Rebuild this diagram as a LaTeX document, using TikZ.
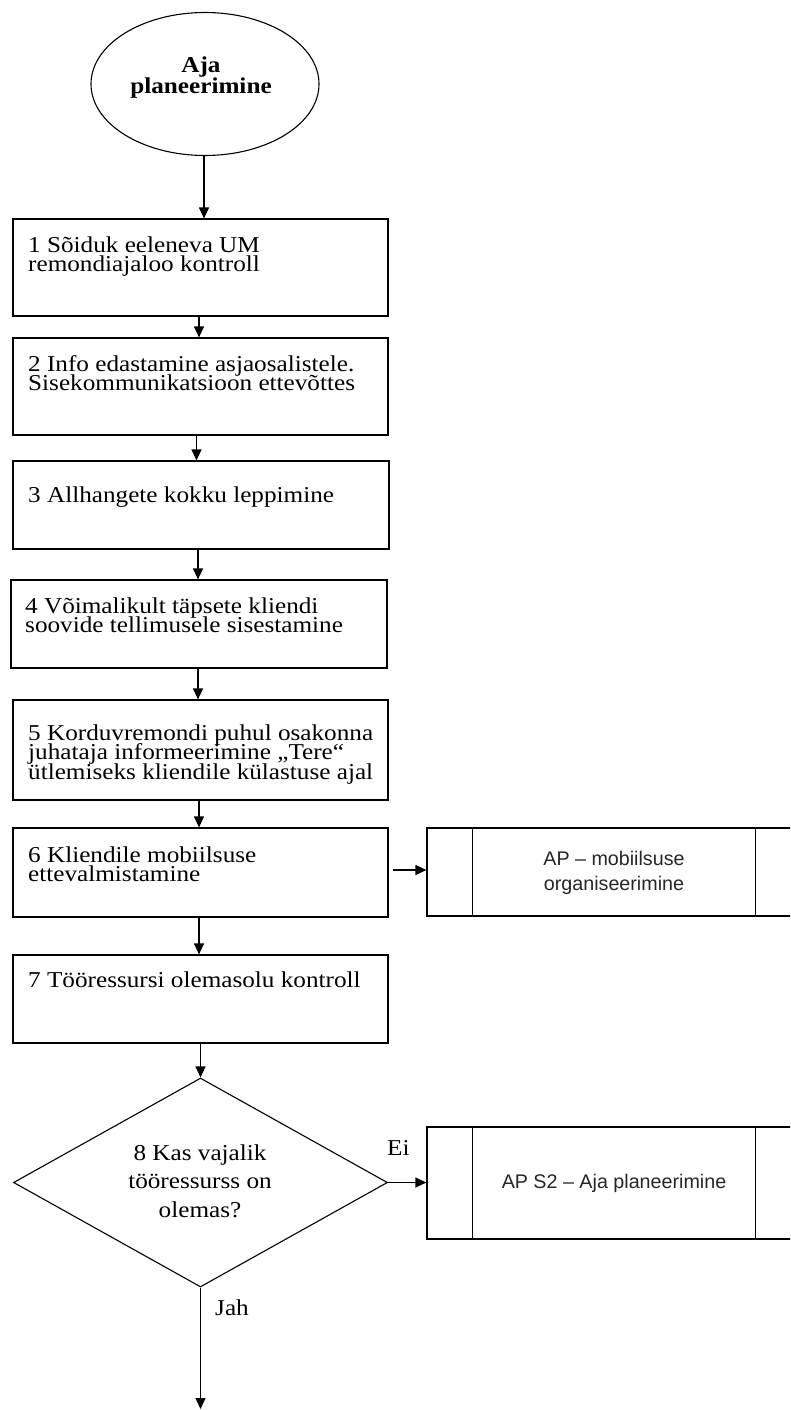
\documentclass[tikz,border=0pt]{standalone}
\usepackage{fontspec}
\setmainfont{Liberation Serif}[FakeStretch=1.11]
\newfontfamily\apfont{Liberation Sans}
\usetikzlibrary{arrows.meta,shapes.geometric,fit}
% stacked lines: the box baseline is the baseline of the first line
\newcommand\leftlines[1]{\vtop{\halign{##\hfil\cr#1\crcr}}}
\newcommand\midlines[1]{\vtop{\halign{\hfil##\hfil\cr#1\crcr}}}
\begin{document}
\begin{tikzpicture}[x=1pt,y=-1pt,
  stepbox/.style={draw, line width=1.2pt, inner sep=0pt},
  subbox/.style={draw, line width=1.2pt, inner sep=0pt},
  decision/.style={draw, diamond, line width=1.1pt, inner sep=0pt, minimum width=374pt, minimum height=209pt},
  startnode/.style={draw, ellipse, line width=1.1pt, inner sep=0pt, minimum width=228pt, minimum height=143pt},
  arr/.style={line width=1.2pt, -{Triangle[length=11pt,width=10pt]}},
  steptext/.style={inner sep=0pt, anchor=base west,
    font={\fontsize{22.7pt}{19.8pt}\selectfont\lineskiplimit=-100pt}},
  qtext/.style={inner sep=0pt, anchor=base,
    font={\fontsize{22.7pt}{28.5pt}\selectfont\lineskiplimit=-100pt}},
  titletext/.style={inner sep=0pt, anchor=base,
    font={\fontsize{22.7pt}{21pt}\selectfont\bfseries\lineskiplimit=-100pt}},
  aptext/.style={inner sep=0pt, anchor=base, text=black!85,
    font={\apfont\fontsize{19.7pt}{25pt}\selectfont\lineskiplimit=-100pt}},
  lbl/.style={inner sep=0pt, anchor=base west,
    font={\fontsize{22.7pt}{19.5pt}\selectfont}},
]
\useasboundingbox (0,0) rectangle (790,1410);
\clip (0,0) rectangle (790,1410);

% start
\node[startnode] (start) at (205,84) {};
\node[titletext] (startt) at (201,73) {\midlines{Aja\cr planeerimine}};

% process steps
\node[stepbox, fit={(13,219) (388,316)}] (b1) {};
\node[stepbox, fit={(13,338) (388,435)}] (b2) {};
\node[stepbox, fit={(13,461) (389,549)}] (b3) {};
\node[stepbox, fit={(11,580) (387,668)}] (b4) {};
\node[stepbox, fit={(13,700) (388,800)}] (b5) {};
\node[stepbox, fit={(13,828) (388,917)}] (b6) {};
\node[stepbox, fit={(13,955) (388,1043)}] (b7) {};

\node[steptext] (t1) at (28,252) {\leftlines{1 Sõiduk eeleneva UM\cr remondiajaloo kontroll}};
\node[steptext] (t2) at (28,371) {\leftlines{2 Info edastamine asjaosalistele.\cr Sisekommunikatsioon ettevõttes}};
\node[steptext] (t3) at (28,502) {3 Allhangete kokku leppimine};
\node[steptext] (t4) at (25,613) {\leftlines{4 Võimalikult täpsete kliendi\cr soovide tellimusele sisestamine}};
\node[steptext] (t5) at (28,740) {\leftlines{5 Korduvremondi puhul osakonna\cr juhataja informeerimine „Tere“\cr ütlemiseks kliendile külastuse ajal}};
\node[steptext] (t6) at (28,862) {\leftlines{6 Kliendile mobiilsuse\cr ettevalmistamine}};
\node[steptext] (t7) at (28,987) {7 Tööressursi olemasolu kontroll};

% decision
\node[decision] (d) at (200.5,1182.5) {};
\node[qtext] (dt) at (200,1160) {\midlines{8 Kas vajalik\cr tööressurss on\cr olemas?}};

% predefined sub-processes
\node[subbox, fit={(427,828) (801,916)}] (ap1) {};
\draw[line width=1.2pt] ([xshift=46pt]ap1.north west) -- ([xshift=46pt]ap1.south west);
\draw[line width=1.2pt] ([xshift=-46pt]ap1.north east) -- ([xshift=-46pt]ap1.south east);
\node[aptext] (ap1t) at (614,865) {\midlines{AP – mobiilsuse\cr organiseerimine}};

\node[subbox, fit={(427,1127) (801,1239)}] (ap2) {};
\draw[line width=1.2pt] ([xshift=46pt]ap2.north west) -- ([xshift=46pt]ap2.south west);
\draw[line width=1.2pt] ([xshift=-46pt]ap2.north east) -- ([xshift=-46pt]ap2.south east);
\node[aptext] (ap2t) at (614,1188) {AP S2 – Aja planeerimine};

% connectors
\coordinate (end) at (200.5,1409);
\draw[arr] ([xshift=-1pt]start.south) -- ([xshift=-1pt]start.south |- b1.north);
\draw[arr] ([xshift=-1.5pt]b1.south) -- ([xshift=-1.5pt]b2.north);
\draw[arr] ([xshift=-4pt]b2.south) -- ([xshift=-4pt]b2.south |- b3.north);
\draw[arr] ([xshift=-3pt]b3.south) -- ([xshift=-3pt]b3.south |- b4.north);
\draw[arr] ([xshift=-1pt]b4.south) -- ([xshift=-1pt]b4.south |- b5.north);
\draw[arr] ([xshift=-1.5pt]b5.south) -- ([xshift=-1.5pt]b6.north);
\draw[arr] ([xshift=-1.5pt]b6.south) -- ([xshift=-1.5pt]b7.north);
\draw[arr] (d.north |- b7.south) -- (d.north);
\draw[arr] ([xshift=4pt,yshift=2.5pt]b6.east) -- ([yshift=2.5pt]b6.east -| ap1.west);
\draw[arr] (d.east) -- (d.east -| ap2.west);
\draw[arr] (d.south) -- (end);

% branch labels
\node[lbl] (ei) at (387,1155) {Ei};
\node[lbl] (jah) at (215,1315) {Jah};
\end{tikzpicture}
\end{document}
